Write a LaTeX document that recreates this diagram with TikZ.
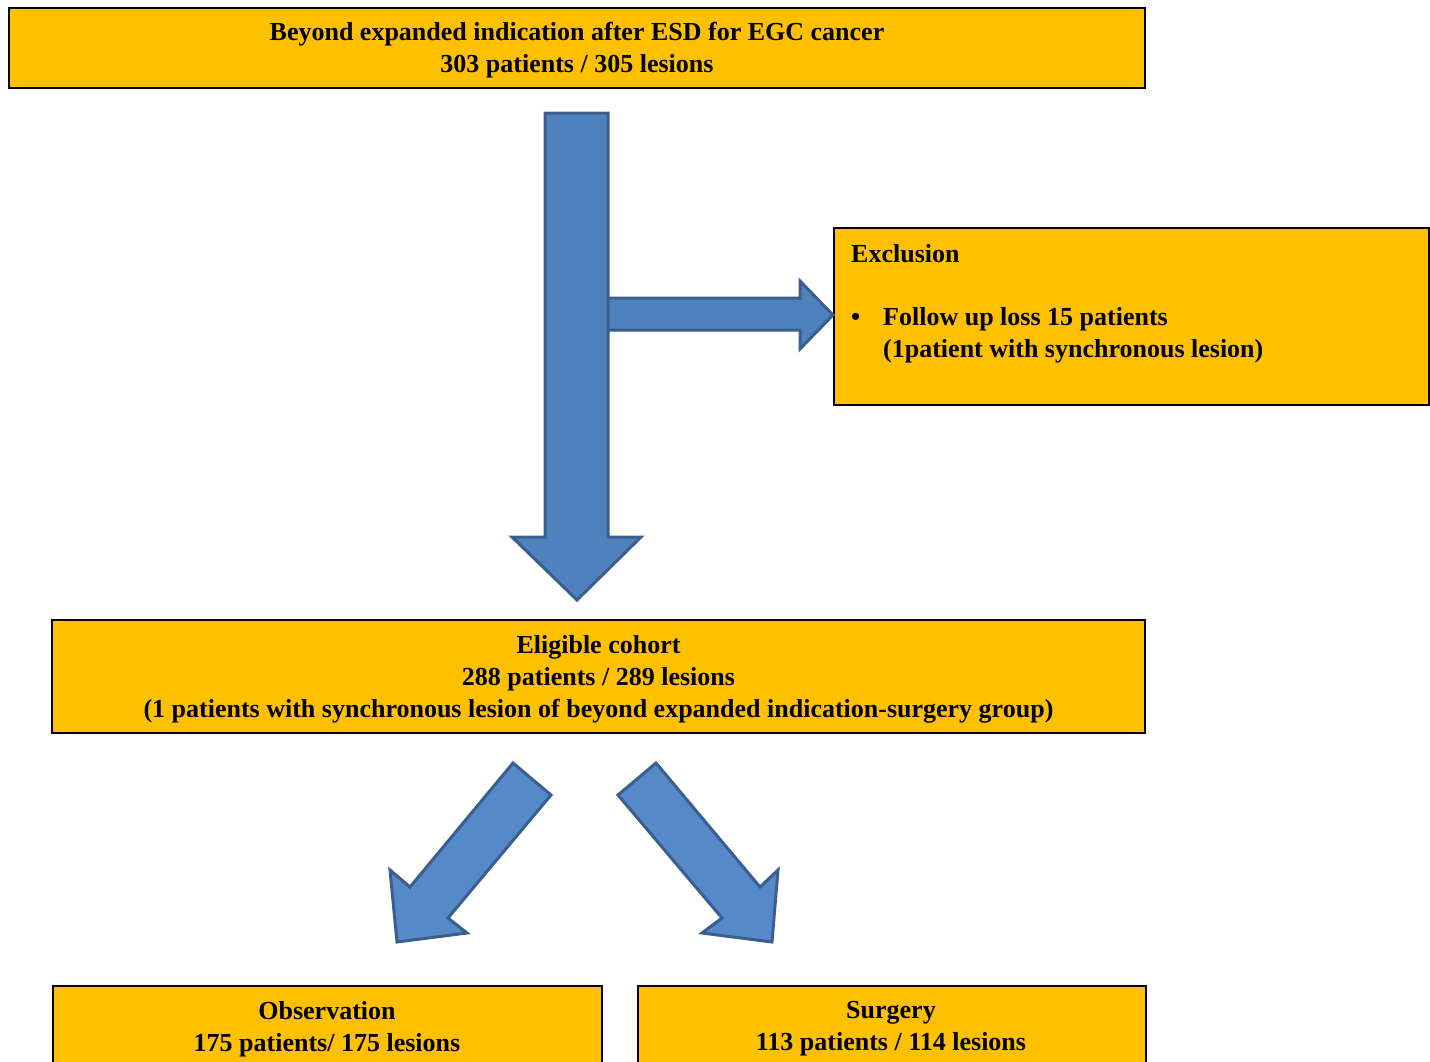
\documentclass[tikz,border=0pt]{standalone}
\usepackage{fontspec}
\setmainfont{Liberation Serif}
\definecolor{boxfill}{HTML}{FFC000}
\definecolor{arrfill}{HTML}{4F81BD}
\definecolor{arrfillb}{HTML}{5589C7}
\definecolor{arrline}{HTML}{3A5F8E}
\begin{document}
\begin{tikzpicture}[x=1pt,y=-1pt,
  box/.style={draw=black, line width=1.6pt, fill=boxfill, inner sep=0pt},
  txt/.style={font=\fontsize{26}{32}\selectfont\bfseries, inner sep=0pt, align=center},
  blockarrow/.style={fill=arrfill, draw=arrline, line width=3pt, line join=miter},
  blockarrowb/.style={fill=arrfillb, draw=arrline, line width=3pt, line join=miter}]
\clip (0,0) rectangle (1430,1061);
\fill[white] (0,0) rectangle (1430,1061);
% top box
\node[box, minimum width=1136pt, minimum height=80pt] (top) at (577,48) {};
\node[txt] (toptxt) at (577,50.5) {Beyond expanded indication after ESD for EGC cancer\\303 patients / 305 lesions};
% exclusion box
\node[box, anchor=north west, minimum width=595pt, minimum height=177pt] (excl) at (833,227) {};
\node[txt, anchor=base west] (exh) at (851,262) {Exclusion};
\node[txt, anchor=base west] (exb) at (851,325) {\textbullet};
\node[txt, anchor=base west] (ext1) at (883,325) {Follow up loss 15 patients};
\node[txt, anchor=base west] (ext2) at (883,357) {(1patient with synchronous lesion)};
% eligible box
\node[box, minimum width=1093pt, minimum height=113pt] (elig) at (598.5,676.5) {};
\node[txt] (eligtxt) at (598.5,679.5) {Eligible cohort\\288 patients / 289 lesions\\(1 patients with synchronous lesion of beyond expanded indication-surgery group)};
% bottom boxes
\node[box, anchor=north west, minimum width=549pt, minimum height=140pt] (obs) at (52,985) {};
\node[txt] (obstxt) at (327,1029) {Observation\\175 patients/ 175 lesions};
\node[box, anchor=north west, minimum width=508pt, minimum height=140pt] (surg) at (637,985) {};
\node[txt] (surgtxt) at (891,1029) {Surgery\\113 patients / 114 lesions};
% right arrow (to exclusion)
\fill[arrfill] (608,298) -- (800,298) -- (800,281) -- (833,315) -- (800,349) -- (800,330) -- (608,330) -- cycle;
\draw[arrline, line width=3pt, line join=miter] (608,298) -- (800,298) -- (800,281) -- (833,315) -- (800,349) -- (800,330) -- (608,330);
% down arrow
\draw[blockarrow] (545,113) -- (608,113) -- (608,537) -- (641,537) -- (577,600) -- (512,537) -- (545,537) -- cycle;
% diagonal arrows
\draw[blockarrowb] (513,763) -- (551,795) -- (448,918) -- (467,933) -- (397,942) -- (390,870) -- (410,887) -- cycle;
\draw[blockarrowb] (656,763) -- (618,795) -- (722,918) -- (702,933) -- (772,942) -- (778,870) -- (760,887) -- cycle;
\end{tikzpicture}
\end{document}
